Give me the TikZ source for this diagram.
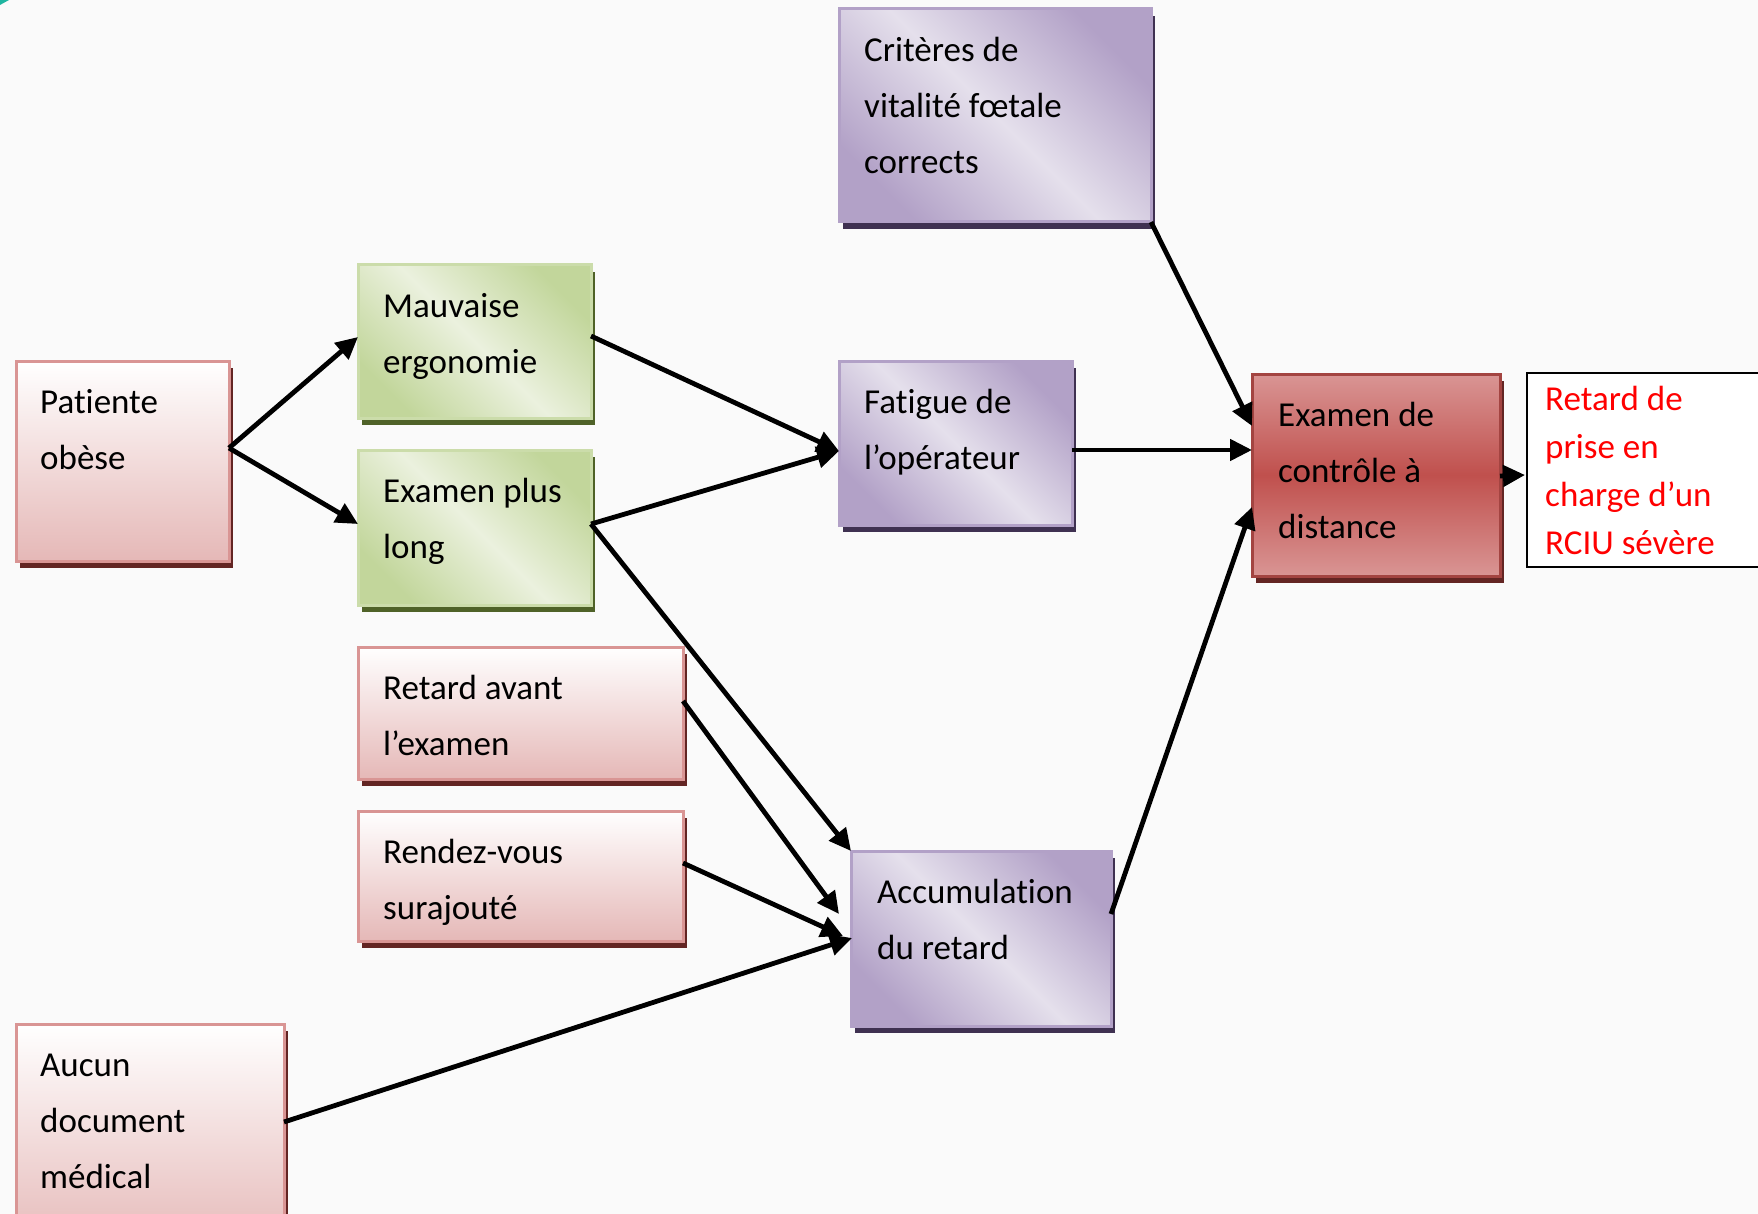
\documentclass[tikz,border=0pt]{standalone}
\usepackage{fontspec}
\setmainfont[Ligatures=NoCommon]{Carlito}
\usetikzlibrary{arrows.meta,shadows,calc}
\definecolor{bgc}{HTML}{FAFAFA}
\definecolor{pinkB}{HTML}{D99594}
\definecolor{pinkL}{HTML}{E5B8B7}
\definecolor{redS}{HTML}{632523}
\definecolor{redM}{HTML}{C0504D}
\definecolor{redE}{HTML}{D99594}
\definecolor{greenD}{HTML}{C2D69B}
\definecolor{greenL}{HTML}{EBF1DE}
\definecolor{greenS}{HTML}{4F6228}
\definecolor{purpD}{HTML}{B2A1C7}
\definecolor{purpL}{HTML}{E5E0EC}
\definecolor{purpS}{HTML}{3F3151}
\definecolor{tealc}{HTML}{1FB5A0}
\newcommand{\bstrut}{\rule{0pt}{39.2pt}}
\newcommand{\rstrut}{\rule{0pt}{33.6pt}}
\begin{document}
\begin{tikzpicture}[x=1pt,y=-1pt,
  box/.style={draw, line width=3pt, rectangle, anchor=north west, inner sep=0pt, outer sep=0pt},
  pinkbox/.style={box, draw=pinkB, top color=white, bottom color=pinkL,
    general shadow={fill=redS, shadow xshift=4pt, shadow yshift=-7pt}},
  greenbox/.style={box, draw=greenD!85!white, top color=greenD, bottom color=greenD, middle color=greenL, shading angle=-45,
    general shadow={fill=greenS, shadow xshift=4pt, shadow yshift=-7pt}},
  purpbox/.style={box, draw=purpD, top color=purpD, bottom color=purpD, middle color=purpL, shading angle=-45,
    general shadow={fill=purpS, shadow xshift=4pt, shadow yshift=-7pt}},
  redbox/.style={box, draw=redM!85!black, top color=redE, bottom color=redE, middle color=redM,
    general shadow={fill=redS, shadow xshift=4pt, shadow yshift=-7pt}},
  outbox/.style={box, draw=black, line width=2pt, fill=white},
  txt/.style={anchor=north west, inner sep=0pt, align=left, text=black,
    font=\fontsize{35}{56}\selectfont},
  redtxt/.style={anchor=north west, inner sep=0pt, align=left, text=red,
    font=\fontsize{35}{48}\selectfont},
  arr/.style={line width=4.8pt, -{Triangle[length=22pt,width=21pt]}}
]
\useasboundingbox (0,0) rectangle (1758,1214);
\fill[bgc] (0,0) rectangle (1758,1214);
\fill[tealc] (0,0) -- (9,0) -- (0,5) -- cycle;

% boxes
\node[pinkbox, minimum width=213pt, minimum height=200pt] (pat) at (16,361) {};
\node[greenbox, minimum width=233pt, minimum height=153pt] (mau) at (358,265) {};
\node[greenbox, minimum width=233pt, minimum height=155pt] (epl) at (358,450) {};
\node[pinkbox, minimum width=325pt, minimum height=132pt] (rav) at (358,647) {};
\node[pinkbox, minimum width=325pt, minimum height=130pt] (rdv) at (358,811) {};
\node[pinkbox, minimum width=268pt, minimum height=230pt] (auc) at (16,1024) {};
\node[purpbox, minimum width=312pt, minimum height=213pt] (cri) at (839,9) {};
\node[purpbox, minimum width=233pt, minimum height=164pt] (fat) at (839,361) {};
\node[purpbox, minimum width=260pt, minimum height=175pt] (acc) at (851,851) {};
\node[redbox, minimum width=248pt, minimum height=202pt] (exa) at (1252,374) {};
\node[outbox, minimum width=260pt, minimum height=194pt] (ret) at (1527,373) {};

% texts
\node[txt] (pat-t) at (40,374) {\bstrut Patiente\\obèse};
\node[txt] (mau-t) at (383,278) {\bstrut Mauvaise\\ergonomie};
\node[txt] (epl-t) at (383,463) {\bstrut Examen plus\\long};
\node[txt] (rav-t) at (383,660) {\bstrut Retard avant\\l’examen};
\node[txt] (rdv-t) at (383,824) {\bstrut Rendez-vous\\surajouté};
\node[txt] (auc-t) at (40,1037) {\bstrut Aucun\\document\\médical};
\node[txt] (cri-t) at (864,22) {\bstrut Critères de\\vitalité fœtale\\corrects};
\node[txt] (fat-t) at (864,374) {\bstrut Fatigue de\\l’opérateur};
\node[txt] (acc-t) at (877,864) {\bstrut Accumulation\\du retard};
\node[txt] (exa-t) at (1278,387) {\bstrut Examen de\\contrôle à\\distance};
\node[redtxt] (ret-t) at (1545,376.5) {\rstrut Retard de\\prise en\\charge d’un\\RCIU sévère};

% connectors
\coordinate (patout) at ($(pat.north east)+(0,87)$);
\coordinate (eplout) at ($(epl.north east)+(0,74)$);
\draw[arr] (patout) -- ($(mau.north west)+(0,72)$);
\draw[arr] (patout) -- ($(epl.north west)+(0,74)$);
\draw[arr] ($(mau.north east)+(0,71)$) -- ($(fat.north west)+(0,90)$);
\draw[arr] (eplout) -- ($(fat.north west)+(0,90)$);
\draw[arr] (eplout) -- (acc.north west);
\draw[arr] ($(rav.north east)+(0,54)$) -- ($(acc.north west)+(-12,63)$);
\draw[arr] ($(rdv.north east)+(0,52)$) -- ($(acc.north west)+(-8,85)$);
\draw[arr] ($(auc.north east)+(0,98)$) -- ($(acc.north west)+(1,87)$);
\draw[arr] (cri.south east) -- ($(exa.north west)+(0,52)$);
\draw[arr] ($(fat.north east)+(0,89)$) -- ($(exa.north west)+(0,76)$);
\draw[arr] ($(acc.north east)+(0,63)$) -- ($(exa.north west)+(0,133)$);
\draw[arr] ($(exa.north east)+(0,102)$) -- ($(ret.north west)+(-2,102)$);
\end{tikzpicture}
\end{document}
